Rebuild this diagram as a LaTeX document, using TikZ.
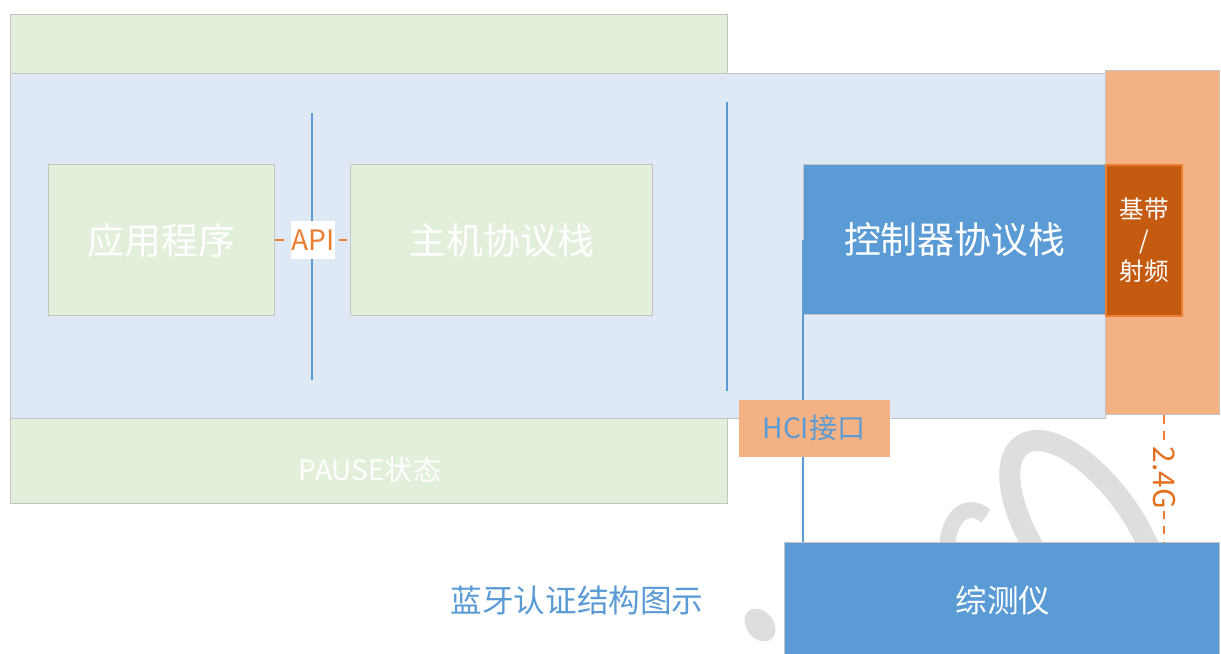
\documentclass[tikz,border=0pt]{standalone}
\usepackage{fontspec}
\setmainfont{Noto Sans CJK SC}
\definecolor{greenfill}{HTML}{E2EFDA}
\definecolor{bluebg}{HTML}{DEE9F5}
\definecolor{peach}{HTML}{F4B183}
\definecolor{midblue}{HTML}{5B9BD5}
\definecolor{rust}{HTML}{C55A11}
\definecolor{orangeline}{HTML}{ED7D31}
\definecolor{orangetext}{HTML}{E2701E}
\definecolor{boxgray}{HTML}{C4C4C4}
\definecolor{wmgray}{HTML}{DEDEDE}
\def\px{0.02cm}
\tikzset{
  box/.style={rectangle, draw=boxgray, line width=0.8pt, inner sep=0pt, anchor=north west},
  vline/.style={draw=midblue, line width=1.4pt},
  wm/.style={draw=wmgray},
  dashline/.style={draw=orangeline, line width=1.3pt, dash pattern=on 5pt off 4pt},
  whitetxt/.style={text=white},
}
\newcommand{\fs}[1]{\fontsize{#1}{#1}\selectfont}
\begin{document}
\begin{tikzpicture}[x=0.02cm,y=-0.02cm]
\useasboundingbox (0,0) rectangle (1221,653);
\fill[white] (0,0) rectangle (1221,653);

% watermark fragments
\begin{scope}[shift={(1085,535)}, rotate=-55]
  \draw[wm, line width=12pt] (0,0) ellipse [x radius=2.2cm, y radius=1.0cm];
\end{scope}
\draw[wm, line width=9pt] (947,548) .. controls (948,518) and (966,500) .. (986,516);
\begin{scope}[shift={(760,625)}, rotate=-50]
  \fill[wmgray] (0,0) ellipse [x radius=0.36cm, y radius=0.27cm];
\end{scope}

% background panels
\node[box, fill=greenfill, minimum width=717*\px, minimum height=489*\px] (pausebg) at (10,14) {};
\node[whitetxt, font=\fs{16}] (pause) at (370,470) {PAUSE状态};
\node[box, fill=bluebg, minimum width=1095*\px, minimum height=345*\px] (hostbg) at (10,73) {};
\node[box, fill=peach, minimum width=114*\px, minimum height=344*\px] (rfbg) at (1105,70) {};

% inner boxes
\node[box, fill=greenfill, minimum width=226*\px, minimum height=151*\px] (app) at (48,164) {};
\node[whitetxt, font=\fs{21}] at (app.center) {应用程序};
\node[box, fill=greenfill, minimum width=302*\px, minimum height=151*\px] (host) at (350,164) {};
\node[whitetxt, font=\fs{21}] at (host.center) {主机协议栈};

% separators
\coordinate (s1t) at (312,113);
\coordinate (s1b) at (312,380);
\coordinate (s2t) at (727,102);
\coordinate (s2b) at (727,391);
\draw[vline] (s1t) -- (s1b);
\draw[vline] (s2t) -- (s2b);

% API link
\draw[dashline] (app.east) -- (host.west)
  node[midway, fill=white, text=orangeline, font=\fs{16}, minimum width=44*\px, minimum height=38*\px, inner sep=0pt] (api) {API};

% controller side
\node[box, fill=midblue, minimum width=302*\px, minimum height=150*\px] (ctrl) at (803,164) {};
\node[whitetxt, font=\fs{21}] at (ctrl.center) {控制器协议栈};
\node[box, fill=rust, draw=orangeline, line width=1.2pt, minimum width=76*\px, minimum height=151*\px] (bb) at (1105,164) {};
\node[whitetxt, align=center, font=\fontsize{14}{17.6}\selectfont] at (bb.center) {基带\\/\\射频};

% tester
\node[box, fill=midblue, minimum width=435*\px, minimum height=116*\px] (tester) at (784,542) {};
\node[whitetxt, font=\fs{18}] at (1003,600) {综测仪};

% HCI link
\draw[vline] (ctrl.west) -- (ctrl.west |- tester.north);
\node[fill=peach, minimum width=151*\px, minimum height=57*\px, inner sep=0pt, text=midblue, font=\fs{16}] (hci) at (814,428) {HCI接口};

% 2.4G link
\coordinate (rftop) at (1164,415);
\draw[dashline] (rftop) -- (rftop |- tester.north);
\node[fill=white, text=orangetext, font=\fs{17}, rotate=-90, inner sep=1pt] (ghz) at (1164,478) {2.4G};

% caption
\node[text=midblue, font=\fs{18}] (caption) at (577,600) {蓝牙认证结构图示};
\end{tikzpicture}
\end{document}
